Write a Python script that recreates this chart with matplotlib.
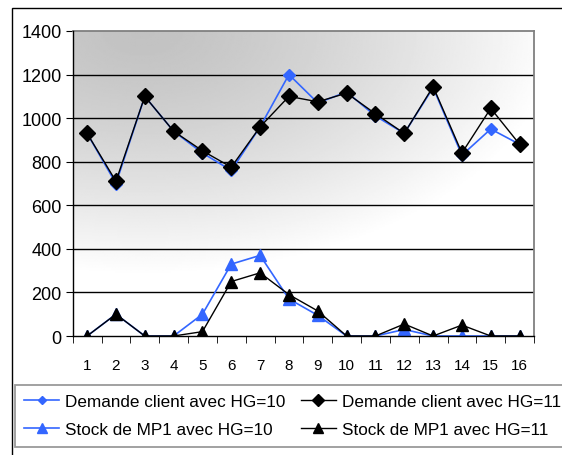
import numpy as np
import matplotlib.pyplot as plt
from matplotlib.patches import Rectangle

plt.rcParams['font.family'] = ['Liberation Sans', 'DejaVu Sans']

# Données
periodes = list(range(1, 17))
demande_hg10 = [930, 700, 1100, 940, 840, 760, 960, 1200, 1070, 1120, 1010, 930, 1140, 830, 950, 880]
demande_hg11 = [930, 710, 1100, 940, 850, 775, 960, 1100, 1075, 1115, 1020, 930, 1145, 840, 1045, 880]
stock_hg10 = [0, 100, 0, 0, 100, 330, 370, 170, 95, 0, 0, 30, 0, 0, 0, 0]
stock_hg11 = [0, 100, 0, 0, 20, 250, 290, 190, 115, 0, 0, 55, 0, 50, 0, 0]
y_ticks = [0, 200, 400, 600, 800, 1000, 1200, 1400]

W, H = 562, 456
fig = plt.figure(figsize=(W / 100, H / 100), dpi=100)
ax = fig.add_axes([72.7 / W, 1 - 337 / H, (534 - 72.7) / W, (337 - 32) / H])

# fond dégradé gris -> blanc
u = np.linspace(0, 1, 300)
w = np.linspace(1, 0, 200)
U, Wg = np.meshgrid(u, w)
r = np.sqrt(((U - 0.15) / 0.9) ** 2 + ((1 - Wg) / 0.8) ** 2)
fond = 0.76 + 0.24 * np.clip(r, 0, 1) ** 1.4
ax.imshow(fond, cmap='gray', vmin=0, vmax=1, extent=[0, 1, 0, 1], transform=ax.transAxes,
          aspect='auto', zorder=0, interpolation='bilinear')

for yv in y_ticks[1:-1]:
    ax.axhline(yv, color='black', lw=1, zorder=1)

bleu = '#3366FF'
ax.plot(periodes, demande_hg10, color=bleu, lw=1.2, marker='D', ms=6, zorder=3,
        label='Demande client avec HG=10')
ax.plot(periodes, stock_hg10, color=bleu, lw=1.2, marker='^', ms=9, zorder=3,
        label='Stock de MP1 avec HG=10')
ax.plot(periodes, demande_hg11, color='black', lw=1, marker='D', ms=8.5, zorder=4,
        label='Demande client avec HG=11')
ax.plot(periodes, stock_hg11, color='black', lw=1, marker='^', ms=9, zorder=4,
        label='Stock de MP1 avec HG=11')

ax.set_xlim(0.5, 16.5)
ax.set_ylim(0, 1400)
ax.set_yticks(y_ticks)
ax.set_xticks(periodes)
ax.set_xticks(np.arange(0.5, 17, 1), minor=True)
ax.tick_params(axis='x', which='major', length=0, labelsize=11, pad=16)
ax.tick_params(axis='x', which='minor', length=5, direction='out', color='black')
ax.tick_params(axis='y', length=5, direction='out', labelsize=13, pad=3, color='black')

for s in ['top', 'right']:
    ax.spines[s].set_color('#808080')
    ax.spines[s].set_linewidth(1.3)
for s in ['left', 'bottom']:
    ax.spines[s].set_color('black')
    ax.spines[s].set_linewidth(1)
    ax.spines[s].set_zorder(5)
ax.patch.set_visible(False)

# cadre extérieur du graphique
fig.patches.append(Rectangle((12 / W, -0.1), 1.1, 1 - 9 / H + 0.1, transform=fig.transFigure,
                             fill=False, edgecolor='black', lw=1))

leg = fig.legend(loc='upper left', bbox_to_anchor=(15 / W, 1 - 386 / H), ncol=2,
                 fontsize=12.3, frameon=True, fancybox=False, edgecolor='#808080',
                 handlelength=2.05, handletextpad=0.35, columnspacing=0.88,
                 borderpad=0.55, labelspacing=0.75, borderaxespad=0, markerscale=0.75)
leg.get_frame().set_linewidth(1.3)

fig.savefig('out.png', dpi=100)
